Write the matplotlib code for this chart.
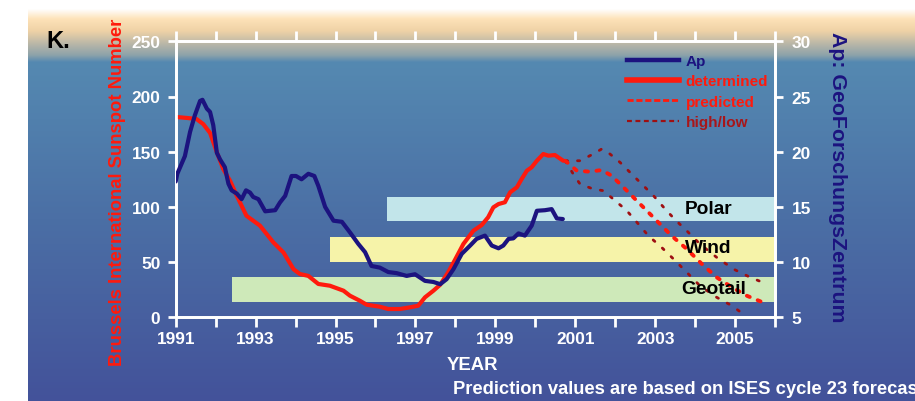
import numpy as np
import matplotlib
matplotlib.use("Agg")
import matplotlib.pyplot as plt
from matplotlib.lines import Line2D
from matplotlib import font_manager as fm

# pick a sans family that really has a bold face installed
family = 'DejaVu Sans'
for cand in ['Liberation Sans', 'Arimo', 'Roboto', 'Open Sans', 'Lato', 'Noto Sans', 'Inter']:
    try:
        path = fm.findfont(fm.FontProperties(family=cand, weight='bold'),
                           fallback_to_default=False)
    except Exception:
        continue
    if 'bold' in path.lower():
        family = cand
        break
plt.rcParams['font.family'] = [family, 'DejaVu Sans']
plt.rcParams['font.weight'] = 'bold'

# ---- data -------------------------------------------------------------
det_year = [1991.0, 1991.3, 1991.52, 1991.69, 1991.86, 1992.03, 1992.19, 1992.36,
            1992.53, 1992.77, 1993.11, 1993.44, 1993.7, 1993.95, 1994.11, 1994.32,
            1994.57, 1994.86, 1995.2, 1995.36, 1995.61, 1995.78, 1996.11, 1996.32,
            1996.61, 1996.86, 1997.07, 1997.24, 1997.45, 1997.62, 1997.82, 1997.99,
            1998.2, 1998.45, 1998.66, 1998.82, 1998.95, 1999.08, 1999.24, 1999.37,
            1999.54, 1999.66, 1999.79, 1999.91, 2000.04, 2000.2, 2000.33, 2000.49,
            2000.7]
det_ssn = [181.5, 180.5, 179.6, 175, 167, 149.5, 134.3, 123.7,
           110, 92, 83, 68, 58.6, 43.5, 39.2, 37.5,
           30.2, 28.6, 24.1, 19.6, 15, 11.4, 9.6, 7.5,
           7.5, 9, 10.5, 18.1, 24.1, 29.5, 40.8, 52,
           66.4, 78.4, 83.6, 90.6, 99.6, 102.6, 104.2, 113.2,
           117.8, 125.3, 132.8, 135.9, 141.8, 147.9, 146.4, 147,
           141.8]

ap_year = [1991.0, 1991.04, 1991.23, 1991.36, 1991.48, 1991.61, 1991.67, 1991.78,
           1991.86, 1991.94, 1992.03, 1992.11, 1992.23, 1992.32, 1992.4, 1992.53,
           1992.65, 1992.76, 1992.86, 1992.94, 1993.07, 1993.24, 1993.49, 1993.61,
           1993.74, 1993.9, 1994.01, 1994.15, 1994.32, 1994.47, 1994.57, 1994.74,
           1994.95, 1995.16, 1995.36, 1995.57, 1995.74, 1995.9, 1996.11, 1996.32,
           1996.53, 1996.78, 1996.99, 1997.24, 1997.45, 1997.62, 1997.78, 1997.95,
           1998.16, 1998.37, 1998.53, 1998.74, 1998.91, 1999.08, 1999.2, 1999.33,
           1999.45, 1999.58, 1999.74, 1999.91, 2000.04, 2000.24, 2000.41, 2000.54,
           2000.69]
ap_value = [17.3, 18.0, 19.6, 21.8, 23.3, 24.6, 24.7, 23.9,
            23.6, 22.4, 19.9, 19.3, 18.6, 17.1, 16.5, 16.2,
            15.7, 16.5, 16.3, 15.9, 15.7, 14.6, 14.7, 15.4,
            16.0, 17.8, 17.8, 17.5, 18.0, 17.8, 16.9, 15.0,
            13.75, 13.65, 12.7, 11.65, 10.9, 9.65, 9.5, 9.1,
            9.0, 8.75, 8.9, 8.3, 8.2, 8.0, 8.45, 9.35,
            10.75, 11.5, 12.1, 12.4, 11.5, 11.25, 11.5, 12.1,
            12.15, 12.6, 12.4, 13.3, 14.65, 14.7, 14.8, 13.95,
            13.9]

pred_year = [2000.75, 2001.04, 2001.37, 2001.66, 2001.91, 2002.25, 2002.54, 2002.79,
             2003.08, 2003.41, 2003.79, 2004.17, 2004.54, 2004.92, 2005.29, 2005.73]
pred_ssn = [141.8, 132.8, 131.9, 133.4, 128.3, 116.2, 105.6, 96.6,
            86, 73.9, 61.9, 48.3, 36.2, 27.2, 19.6, 13]

high_year = [2000.75, 2001.12, 2001.45, 2001.66, 2001.87, 2002.12, 2002.33, 2002.62,
             2002.96, 2003.25, 2003.5, 2003.79, 2004.12, 2004.54, 2004.96, 2005.38, 2005.79]
high_ssn = [141.8, 141.8, 147.9, 152.4, 147.9, 140.4, 132.8, 122.3,
            110.1, 98.1, 88.4, 78.4, 66.4, 54.3, 43.7, 36.2, 30.2]

low_year = [2000.75, 2000.95, 2001.12, 2001.45, 2001.7, 2001.95, 2002.29, 2002.58,
            2002.83, 2003.16, 2003.46, 2003.79, 2004.12, 2004.54, 2004.92, 2005.17]
low_ssn = [141.8, 129.8, 120.7, 116.2, 114.7, 107.2, 96.6, 84.5,
           73.9, 63.4, 52.8, 40.8, 28.6, 18.1, 10.5, 3.9]

band_names = ["Polar", "Wind", "Geotail"]
band_start = [1996.29, 1994.86, 1992.41]
band_low = [87.0, 50.0, 13.6]
band_high = [109.0, 72.5, 36.2]
band_colors = ["#c2e5ea", "#f6f3a9", "#cee9b9"]
band_label_x = [2004.34, 2004.32, 2004.46]
band_label_y = [98.1, 63.4, 26.3]

year_ticks = list(range(1991, 2007))
ssn_ticks = [0, 50, 100, 150, 200, 250]
ap_ticks = [5, 10, 15, 20, 25, 30]

# ---- figure & background ---------------------------------------------
W, H = 915, 402
fig = plt.figure(figsize=(W / 100, H / 100), dpi=100, facecolor='white')

stops_y = [10, 20, 32, 46, 56, 63, 120, 220, 320, 402]
stops_c = ["#ffffff", "#fde2b8", "#efd2a6", "#b4b4a8", "#8ea3aa", "#5589b1",
           "#5180ad", "#4b6fa5", "#475f9f", "#43529a"]
rgb = np.array([matplotlib.colors.to_rgb(c) for c in stops_c])
ys = np.arange(10, 402) + 0.5
grad = np.stack([np.interp(ys, stops_y, rgb[:, k]) for k in range(3)], axis=1)
grad = np.repeat(grad[:, None, :], 2, axis=1)
bg = fig.add_axes([28 / W, 0, 1 - 28 / W, (H - 10) / H])
bg.imshow(grad, aspect='auto', extent=[0, 1, 0, 1], interpolation='bilinear')
bg.set_axis_off()

# ---- main axes ---------------------------------------------------------
x0, x1 = 175.7, 775.0
y0, y1 = 318.3, 42.3
ax = fig.add_axes([x0 / W, (H - y0) / H, (x1 - x0) / W, (y0 - y1) / H])
ax.patch.set_alpha(0)
ax.set_xlim(1991, 2006)
ax.set_ylim(0, 250)

for name, s, lo, hi, c in zip(band_names, band_start, band_low, band_high, band_colors):
    ax.barh((lo + hi) / 2, 2006 - s, height=hi - lo, left=s, color=c,
            edgecolor='none', zorder=1)

red = "#ff1a0d"
dark_red = "#9e0f12"
navy = "#1c137f"

ax.plot(det_year, det_ssn, color=red, lw=3.0, solid_capstyle='round', zorder=3)
ax.plot(high_year, high_ssn, color=dark_red, lw=2.0, linestyle=(0, (0.8, 3.6)),
        dash_capstyle='round', zorder=3)
ax.plot(low_year, low_ssn, color=dark_red, lw=2.0, linestyle=(0, (0.8, 3.6)),
        dash_capstyle='round', zorder=3)
ax.plot(pred_year, pred_ssn, color=red, lw=2.8, linestyle=(0, (0.8, 2.2)),
        dash_capstyle='round', zorder=3)

for name, bx, by in zip(band_names, band_label_x, band_label_y):
    ax.text(bx, by, name, ha='center', va='center', fontsize=13.8,
            fontweight='bold', color='black', zorder=5)

ax2 = ax.twinx()
ax2.set_ylim(5, 30)
ax2.plot(ap_year, ap_value, color=navy, lw=3.0, solid_capstyle='round', zorder=4)

# ---- spines / ticks ----------------------------------------------------
for a in (ax, ax2):
    for sp in a.spines.values():
        sp.set_color('white')
        sp.set_linewidth(2)

ax.set_xticks(year_ticks)
ax.set_xticklabels([str(y) if y % 2 == 1 else "" for y in year_ticks])
ax.tick_params(axis='x', which='major', direction='out', length=7, width=2,
               color='white', labelcolor='white', labelsize=12.4, pad=3,
               top=True)
ax.set_yticks(ssn_ticks)
ax.tick_params(axis='y', direction='out', length=6, width=2, color='white',
               labelcolor='white', labelsize=12.4, pad=5)
ax2.set_yticks(ap_ticks)
ax2.tick_params(axis='y', direction='out', length=6, width=2, color='white',
                labelcolor='white', labelsize=12.4, pad=6)
for lab in ax.get_xticklabels() + ax.get_yticklabels() + ax2.get_yticklabels():
    lab.set_fontweight('bold')

# ---- legend ------------------------------------------------------------
handles = [
    Line2D([], [], color=navy, lw=3.2),
    Line2D([], [], color=red, lw=4.0),
    Line2D([], [], color=red, lw=2.0, linestyle=(0, (2.2, 1.0))),
    Line2D([], [], color=dark_red, lw=1.6, linestyle=(0, (2.2, 1.6))),
]
labels = ["Ap", "determined", "predicted", "high/low"]
leg = ax.legend(handles, labels, loc='upper left',
                bbox_to_anchor=(627 / W, (H - 55) / H), bbox_transform=fig.transFigure,
                frameon=False, handlelength=3.4, handletextpad=0.45,
                labelspacing=0.42, borderpad=0, borderaxespad=0,
                prop={'family': family, 'weight': 'bold', 'size': 11})
for t, c in zip(leg.get_texts(), [navy, red, red, "#a8161a"]):
    t.set_color(c)
leg.set_zorder(6)

# ---- labels ------------------------------------------------------------
fig.text(118 / W, (H - 192) / H, "Brussels International Sunspot Number",
         rotation=90, ha='center', va='center', color=red, fontsize=13.3,
         fontweight='bold')
fig.text(838 / W, (H - 177) / H, "Ap: GeoForschungsZentrum", rotation=270,
         ha='center', va='center', color=navy, fontsize=15.3, fontweight='bold')
fig.text(472 / W, (H - 366) / H, "YEAR", ha='center', va='center',
         color='white', fontsize=13.3, fontweight='bold')
fig.text(453 / W, (H - 390) / H, "Prediction values are based on ISES cycle 23 forecast",
         ha='left', va='center', color='white', fontsize=13.2, fontweight='bold')
fig.text(46 / W, (H - 42) / H, "K.", ha='left', va='center', color='black',
         fontsize=17, fontweight='bold')

fig.savefig("out.png", dpi=100, facecolor=fig.get_facecolor())
